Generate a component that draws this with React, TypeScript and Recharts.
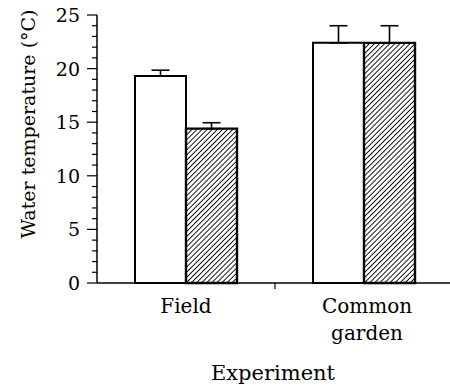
// Water temperature by experiment: paired bars (open / hatched) with upper error bars
import { BarChart, Bar, XAxis, YAxis, ErrorBar, Label } from 'recharts';

const experiments = ['Field', 'Common garden'];
const openMeans = [19.3, 22.4];
const openErrors = [0.55, 1.6];
const hatchedMeans = [14.4, 22.4];
const hatchedErrors = [0.55, 1.6];
const yTicks = [0, 1, 2, 3, 4, 5, 6, 7, 8, 9, 10, 11, 12, 13, 14, 15, 16, 17, 18, 19, 20, 21, 22, 23, 24, 25];
const yLabelTicks = [0, 5, 10, 15, 20, 25];

const data = experiments.map((name, i) => ({
  name,
  open: openMeans[i],
  openErr: [0, openErrors[i]],
  hatched: hatchedMeans[i],
  hatchedErr: [0, hatchedErrors[i]],
}));

const FONT = 'DejaVu Serif';
const textStyle = { fontFamily: FONT };
const W = 456;
const H = 385;
const MARGIN = { top: 15, right: 3, left: 0, bottom: 0 };
const Y_W = 97;
const BAND = (W - MARGIN.left - MARGIN.right - Y_W) / experiments.length;

function YTick(props: any) {
  const { x, y, payload } = props;
  const major = yLabelTicks.includes(payload.value);
  return (
    <g>
      <line x1={x - (major ? 10 : 5)} x2={x} y1={y} y2={y} stroke="#000" strokeWidth={1.2} />
      {major && (
        <text x={x - 17} y={y} dy={7} textAnchor="end" style={textStyle} fontSize={19} fill="#000">
          {payload.value}
        </text>
      )}
    </g>
  );
}

function XTick(props: any) {
  const { x, y, payload, index } = props;
  const lines = String(payload.value).split(' ');
  const dx = index === 0 ? 0 : 3;
  return (
    <g>
      {index === 0 && (
        <line x1={x + BAND / 2} x2={x + BAND / 2} y1={y} y2={y + 6} stroke="#000" strokeWidth={1.2} />
      )}
      <text x={x + dx} y={y + 30} textAnchor="middle" style={textStyle} fontSize={20} fill="#000">
        {lines.map((l, i) => (
          <tspan key={i} x={x + dx} dy={i === 0 ? 0 : 27}>
            {l}
          </tspan>
        ))}
      </text>
    </g>
  );
}

export default function App() {
  return (
    <div style={{ position: 'absolute', left: 0, top: 0, width: 450, height: H, overflow: 'hidden', background: '#fff' }}>
      <BarChart width={W} height={H} data={data} margin={MARGIN} barGap={0} barSize={51}>
        <defs>
          <pattern id="hatch" patternUnits="userSpaceOnUse" width={3.6} height={3.6} patternTransform="rotate(45)">
            <rect width={3.6} height={3.6} fill="#fff" />
            <line x1={0} y1={0} x2={0} y2={3.6} stroke="#000" strokeWidth={1.8} />
          </pattern>
        </defs>
        <XAxis
          dataKey="name"
          interval={0}
          height={H - MARGIN.top - 268}
          axisLine={{ stroke: '#000', strokeWidth: 1.5 }}
          tickLine={false}
          tickSize={0}
          tickMargin={0}
          tick={<XTick />}
        >
          <Label
            content={({ viewBox }: any) => (
              <text
                x={viewBox.x + viewBox.width / 2 - 2}
                y={viewBox.y + viewBox.height - 5}
                textAnchor="middle"
                style={textStyle}
                fontSize={21}
                fill="#000"
              >
                Experiment
              </text>
            )}
          />
        </XAxis>
        <YAxis
          width={Y_W}
          domain={[0, 25]}
          ticks={yTicks}
          interval={0}
          axisLine={{ stroke: '#000', strokeWidth: 1.5 }}
          tickLine={false}
          tickSize={0}
          tickMargin={0}
          tick={<YTick />}
        >
          <Label
            content={() => (
              <text
                transform="translate(28, 124) rotate(-90)"
                textAnchor="middle"
                dominantBaseline="central"
                style={textStyle}
                fontSize={19}
                fill="#000"
              >
                Water temperature (°C)
              </text>
            )}
          />
        </YAxis>
        <Bar dataKey="open" fill="#fff" stroke="#000" strokeWidth={2} isAnimationActive={false}>
          <ErrorBar dataKey="openErr" width={9} stroke="#000" strokeWidth={1.6} isAnimationActive={false} />
        </Bar>
        <Bar dataKey="hatched" fill="url(#hatch)" stroke="#000" strokeWidth={2.4} isAnimationActive={false}>
          <ErrorBar dataKey="hatchedErr" width={9} stroke="#000" strokeWidth={1.6} isAnimationActive={false} />
        </Bar>
      </BarChart>
    </div>
  );
}
